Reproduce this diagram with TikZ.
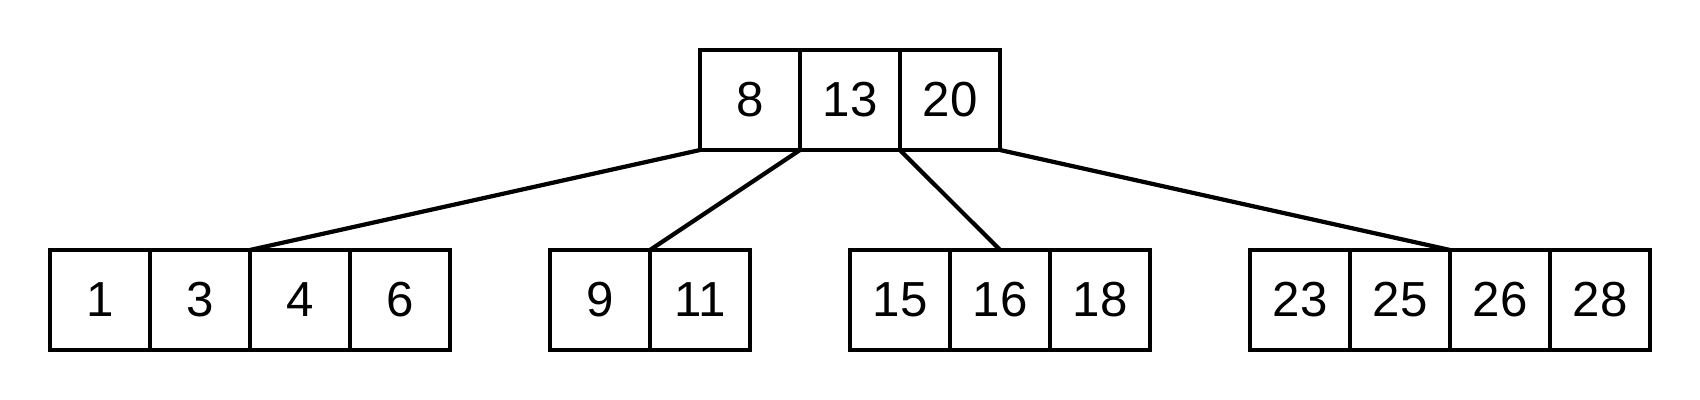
\documentclass[tikz,border=0pt]{standalone}
\usepackage{fontspec}
\setmainfont{Liberation Sans}
\begin{document}
\begin{tikzpicture}[x=0.01cm,y=-0.01cm,
  cell/.style={draw, line width=1.2pt, minimum width=1cm, minimum height=1cm, inner sep=0pt, outer sep=0pt, font=\fontsize{14pt}{16pt}\selectfont},
  link/.style={line width=1.2pt}]
\useasboundingbox (0,0) rectangle (1700,400);
% root
\node[cell] (r1) at (750,100) {8};
\node[cell] (r2) at (850,100) {13};
\node[cell] (r3) at (950,100) {20};
% leaf 1
\node[cell] (a1) at (100,300) {1};
\node[cell] (a2) at (200,300) {3};
\node[cell] (a3) at (300,300) {4};
\node[cell] (a4) at (400,300) {6};
% leaf 2
\node[cell] (b1) at (600,300) {9};
\node[cell] (b2) at (700,300) {11};
% leaf 3
\node[cell] (c1) at (900,300) {15};
\node[cell] (c2) at (1000,300) {16};
\node[cell] (c3) at (1100,300) {18};
% leaf 4
\node[cell] (d1) at (1300,300) {23};
\node[cell] (d2) at (1400,300) {25};
\node[cell] (d3) at (1500,300) {26};
\node[cell] (d4) at (1600,300) {28};
% connectors
\draw[link] (r1.south west) -- (a3.north west);
\draw[link] (r2.south west) -- (b2.north west);
\draw[link] (r3.south west) -- (c2.north);
\draw[link] (r3.south east) -- (d3.north west);
\end{tikzpicture}
\end{document}
